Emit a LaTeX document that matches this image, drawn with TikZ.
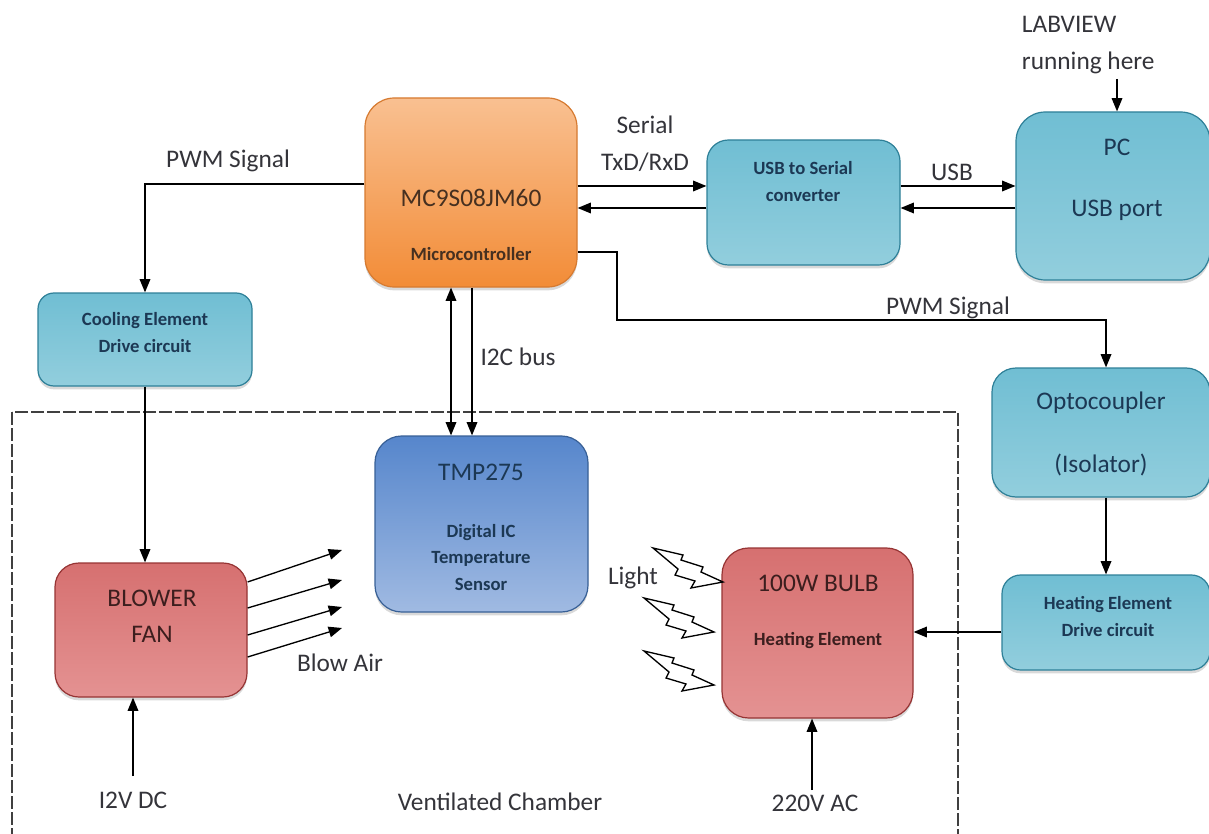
\documentclass[tikz,border=0pt]{standalone}
\usepackage{fontspec}
\setmainfont{Carlito}
\usetikzlibrary{arrows.meta,shadows}

\definecolor{orTop}{RGB}{249,192,145}
\definecolor{orMid}{RGB}{245,152,78}
\definecolor{orBot}{RGB}{242,140,55}
\definecolor{orEdge}{RGB}{214,122,48}
\definecolor{tlTop}{RGB}{112,190,211}
\definecolor{tlMid}{RGB}{72,168,196}
\definecolor{tlBot}{RGB}{146,206,221}
\definecolor{tlEdge}{RGB}{46,128,152}
\definecolor{buTop}{RGB}{86,134,204}
\definecolor{buBot}{RGB}{160,186,226}
\definecolor{buEdge}{RGB}{56,96,150}
\definecolor{rdTop}{RGB}{214,112,112}
\definecolor{rdMid}{RGB}{198,68,68}
\definecolor{rdBot}{RGB}{228,146,146}
\definecolor{rdEdge}{RGB}{150,52,52}
\definecolor{txtNavy}{RGB}{28,56,84}
\definecolor{txtBrown}{RGB}{70,48,32}
\definecolor{txtRed}{RGB}{60,30,30}
\definecolor{lblGray}{RGB}{52,52,58}

\tikzset{every picture/.style={line width=0.75pt},
  blockbox/.style={draw, inner sep=0pt, line width=0.9pt,
    drop shadow={opacity=0.3, shadow xshift=0pt, shadow yshift=-2.5pt}},
  orbox/.style={blockbox, top color=orTop, middle color=orMid, bottom color=orBot, draw=orEdge},
  tlbox/.style={blockbox, top color=tlTop, middle color=tlMid, bottom color=tlBot, draw=tlEdge},
  bubox/.style={blockbox, top color=buTop, bottom color=buBot, draw=buEdge},
  rdbox/.style={blockbox, top color=rdTop, middle color=rdMid, bottom color=rdBot, draw=rdEdge},
  bigtxt/.style={font=\fontsize{19}{23}\selectfont},
  smalltxt/.style={font=\fontsize{14}{20}\selectfont\bfseries, align=center},
  lbl/.style={font=\fontsize{19}{28}\selectfont, text=lblGray, align=center},
  arr/.style={-{Triangle[length=10pt,width=8pt]}, line width=1pt},
  chamber/.style={draw=black!75, line width=0.8pt, dash pattern=on 10pt off 2pt}
}

\newcommand{\lightbolt}[1]{%
  \draw [line width=1pt, fill=white, shift={#1}] (0,0) -- (30,7) -- (28,12) -- (50,19) -- (48,24) -- (70,34) -- (38,40) -- (42,33) -- (22,27) -- (25,21) -- cycle ;}

\begin{document}
\begin{tikzpicture}[x=0.75pt,y=0.75pt,yscale=-1,xscale=1]
\useasboundingbox (0,0) rectangle (1209,834);

%Shape: Rectangle [ventilated chamber]
\draw [chamber] (12,412) rectangle (958,850) ;

%Shape: Rounded Rect [blocks]
\node [orbox, rounded corners=22pt, minimum width=159pt, minimum height=141.75pt] (mc) at (471,192.5) {};
\node [tlbox, rounded corners=16pt, minimum width=144.75pt, minimum height=93.75pt] (usb) at (803.5,202.5) {};
\node [tlbox, rounded corners=22pt, minimum width=145.5pt, minimum height=126pt] (pc) at (1113,196) {};
\node [tlbox, rounded corners=12pt, minimum width=160.5pt, minimum height=69.75pt] (cool) at (145,339.5) {};
\node [rdbox, rounded corners=18pt, minimum width=144pt, minimum height=100.5pt] (blower) at (151,630) {};
\node [bubox, rounded corners=20pt, minimum width=159.75pt, minimum height=132pt] (tmp) at (481.5,524) {};
\node [rdbox, rounded corners=20pt, minimum width=143.25pt, minimum height=127.5pt] (bulb) at (817.5,633) {};
\node [tlbox, rounded corners=18pt, minimum width=163.5pt, minimum height=96.75pt] (opto) at (1101,432.5) {};
\node [tlbox, rounded corners=14pt, minimum width=156pt, minimum height=71.25pt] (hedrv) at (1106,622.5) {};

% Text Node [block texts]
\node [bigtxt, text=txtBrown] (mc-a) at (471,198) {MC9S08JM60};
\node [smalltxt, text=txtBrown] (mc-b) at (471,254) {Microcontroller};
\node [smalltxt, text=txtNavy] (usb-a) at (803,181.5) {USB to Serial\\converter};
\node [bigtxt, text=txtNavy] (pc-a) at (1117,147) {PC};
\node [bigtxt, text=txtNavy] (pc-b) at (1117,210) {USB port};
\node [smalltxt, text=txtNavy] (cool-a) at (145,332.5) {Cooling Element\\Drive circuit};
\node [bigtxt, text=txtRed, align=center, font=\fontsize{19}{27}\selectfont] (blower-a) at (152,616) {BLOWER\\FAN};
\node [bigtxt, text=txtNavy] (tmp-a) at (481,472) {TMP275};
\node [smalltxt, text=txtNavy] (tmp-b) at (481,557.5) {Digital IC\\Temperature\\Sensor};
\node [bigtxt, text=txtRed] (bulb-a) at (818,583) {100W BULB};
\node [smalltxt, text=txtRed] (bulb-b) at (818,641) {Heating Element};
\node [bigtxt, text=txtNavy] (opto-a) at (1101,403) {Optocoupler};
\node [bigtxt, text=txtNavy] (opto-b) at (1101,465) {(Isolator)};
\node [smalltxt, text=txtNavy] (hedrv-a) at (1108,616.5) {Heating Element\\Drive circuit};

% Text Node [labels]
\node [lbl] (pwm-l) at (228,161) {PWM Signal};
\node [lbl] (serial) at (645,144) {Serial\\TxD/RxD};
\node [lbl] (usb-l) at (952,172) {USB};
\node [lbl, align=left, anchor=west] (labview) at (1017,45) {LABVIEW\\running here};
\node [lbl] (pwm-r) at (948,308) {PWM Signal};
\node [lbl] (i2c) at (518,357) {I2C bus};
\node [lbl] (blow) at (340,663) {Blow Air};
\node [lbl] (light) at (633,578) {Light};
\node [lbl] (v12-l) at (133,800) {I2V DC};
\node [lbl] (vent) at (500,802) {Ventilated Chamber};
\node [lbl] (v220-l) at (815,803) {220V AC};

\coordinate (lv) at (1117,79);
\coordinate (v12) at (133,776);
\coordinate (v220) at (812,790);

%Straight Lines [connectors]
\draw [arr] (mc.west |- 0,184) -| (cool.north -| 145,0) ;
\draw [arr] (mc.east |- 0,186) -- (usb.west |- 0,186) ;
\draw [arr] (usb.west |- 0,208) -- (mc.east |- 0,208) ;
\draw [arr] (usb.east |- 0,186) -- (pc.west |- 0,186) ;
\draw [arr] (pc.west |- 0,208) -- (usb.east |- 0,208) ;
\draw [arr] (lv) -- (lv |- pc.north) ;
\draw [arr, {Triangle[length=10pt,width=8pt]}-{Triangle[length=10pt,width=8pt]}] (mc.south -| 451,0) -- (tmp.north -| 451,0) ;
\draw [arr] (mc.south -| 472,0) -- (tmp.north -| 472,0) ;
\draw [arr] (mc.east |- 0,252) -| (617,320) -| (opto.north -| 1106,0) ;
\draw [arr] (cool.south -| 145,0) -- (blower.north -| 145,0) ;
\draw [arr] (v12) -- (v12 |- blower.south) ;
\draw [arr] (hedrv.north |- opto.south) -- (hedrv.north) ;
\draw [arr] (hedrv.west |- 0,632) -- (bulb.east |- 0,632) ;
\draw [arr] (v220) -- (v220 |- bulb.south) ;

%Straight Lines [blow air]
\foreach \ya/\yb in {582/550, 608/580, 635/607, 657/628}
  \draw [arr] (blower.east |- 0,\ya) -- (342,\yb) ;

%Shape: Lightning [light]
\lightbolt{(653,548)}
\lightbolt{(644,598)}
\lightbolt{(644,651)}

\end{tikzpicture}
\end{document}
